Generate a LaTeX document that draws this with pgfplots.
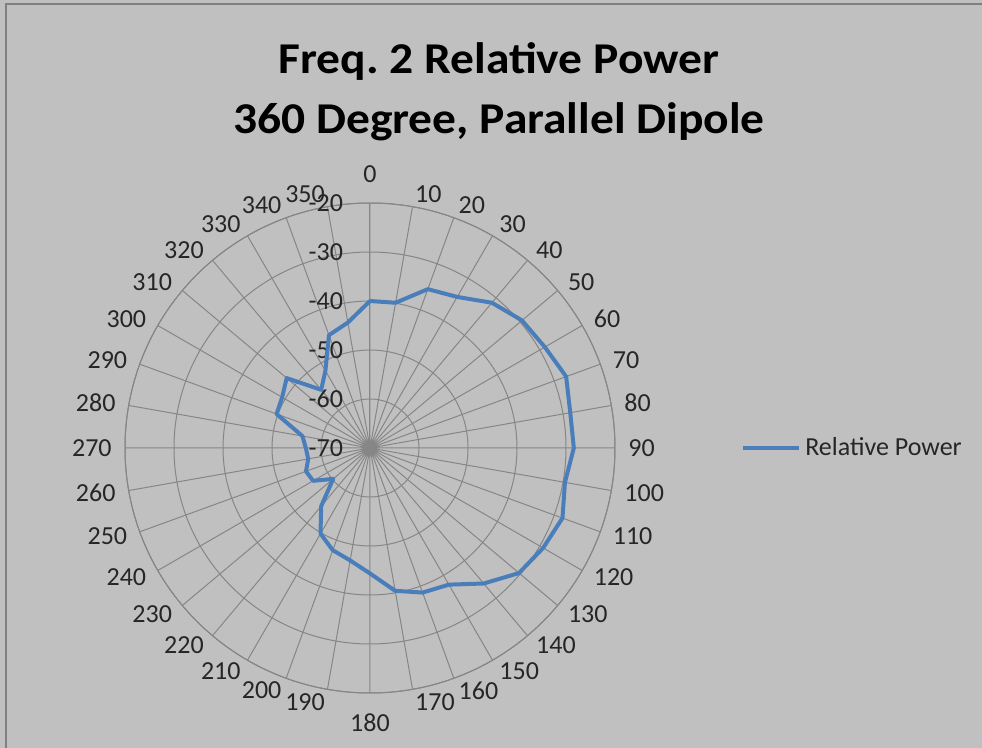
\documentclass[border=0pt]{standalone}
\usepackage{graphicx}
\usepackage{pgfplots}
\usepackage{pgfplotstable}
\pgfplotsset{compat=1.18}
\usepgfplotslibrary{polar}
\usepackage{fontspec}
\setmainfont{Carlito}
\definecolor{bg}{RGB}{192,192,192}
\definecolor{gridc}{RGB}{134,134,134}
\definecolor{borderc}{RGB}{128,128,128}
\definecolor{series}{RGB}{74,126,187}
\pgfplotstableread{
deg rp
0 -40.0
10 -39.9
20 -35.5
30 -34.4
40 -31.3
50 -29.5
60 -28.8
70 -27.4
80 -28.5
90 -28.4
100 -29.6
110 -28.2
120 -29.2
130 -30.3
140 -33.9
150 -37.8
160 -38.6
170 -40.4
180 -44.4
190 -46.7
200 -47.8
210 -49.8
220 -54.5
230 -60.2
240 -56.6
250 -56.1
260 -57.2
270 -56.9
280 -56.0
290 -49.7
300 -49.3
310 -47.8
320 -54.5
330 -51.8
340 -45.5
350 -44.0
360 -40.0
}\datatable
\begin{document}
\begin{tikzpicture}
\useasboundingbox (0,0) rectangle (491pt,-374pt);
\fill[bg] (0,0) rectangle (491pt,-374pt);
\draw[borderc, line width=1pt] (3pt,-400pt) -- (3pt,-2pt) -- (500pt,-2pt);
\node[anchor=base, font=\fontsize{22}{26}\selectfont\bfseries, text=black] at (249.5pt,-36.8pt) {\scalebox{1.08}[1]{Freq.\ 2 Relative Power}};
\node[anchor=base, font=\fontsize{22}{26}\selectfont\bfseries, text=black] at (249.5pt,-66.8pt) {\scalebox{1.08}[1]{360 Degree, Parallel Dipole}};
\begin{polaraxis}[
  at={(185pt,-224pt)}, anchor=center,
  scale only axis, width=245pt, height=245pt,
  xmin=90, xmax=450,
  ymin=0, ymax=50,
  xtick={90,100,...,440},
  xticklabels={0,350,340,330,320,310,300,290,280,270,260,250,240,230,220,210,200,190,180,170,160,150,140,130,120,110,100,90,80,70,60,50,40,30,20,10},
  ytick={0,10,...,50},
  yticklabels={-70,-60,-50,-40,-30,-20},
  x filter/.expression={450-x},
  y filter/.expression={y+70},
  grid=major,
  major grid style={gridc, line width=0.5pt},
  axis line style={gridc, line width=0.5pt},
  major tick length=0pt,
  tick label style={font=\fontsize{13}{15}\selectfont, text=black!85},
  xticklabel style={inner xsep=0pt, inner ysep=3.5pt,
    /utils/exec={\pgfmathparse{ifthenelse(abs(\tick-90)<1,270,ifthenelse(abs(\tick-270)<1,90,ifthenelse(and(\tick>90,\tick<270),0,180)))}\global\let\myanc\pgfmathresult},
    anchor=\myanc, xshift={6.5*cos(\tick)}, yshift={6.5*sin(\tick)}},
  yticklabel style={anchor=east, xshift=-10pt},
  legend style={at={(1.257,0.5)}, anchor=west, draw=none, fill=none,
    font=\fontsize{13}{15}\selectfont, inner sep=0pt, text=black!85},
  legend cell align=left,
  legend image code/.code={\draw[#1] (0pt,0pt) -- (28pt,0pt);},
]
\addplot[series, line width=2pt, line join=round] table[x=deg, y=rp] {\datatable};
\addlegendentry{Relative Power}
\end{polaraxis}
\end{tikzpicture}
\end{document}
